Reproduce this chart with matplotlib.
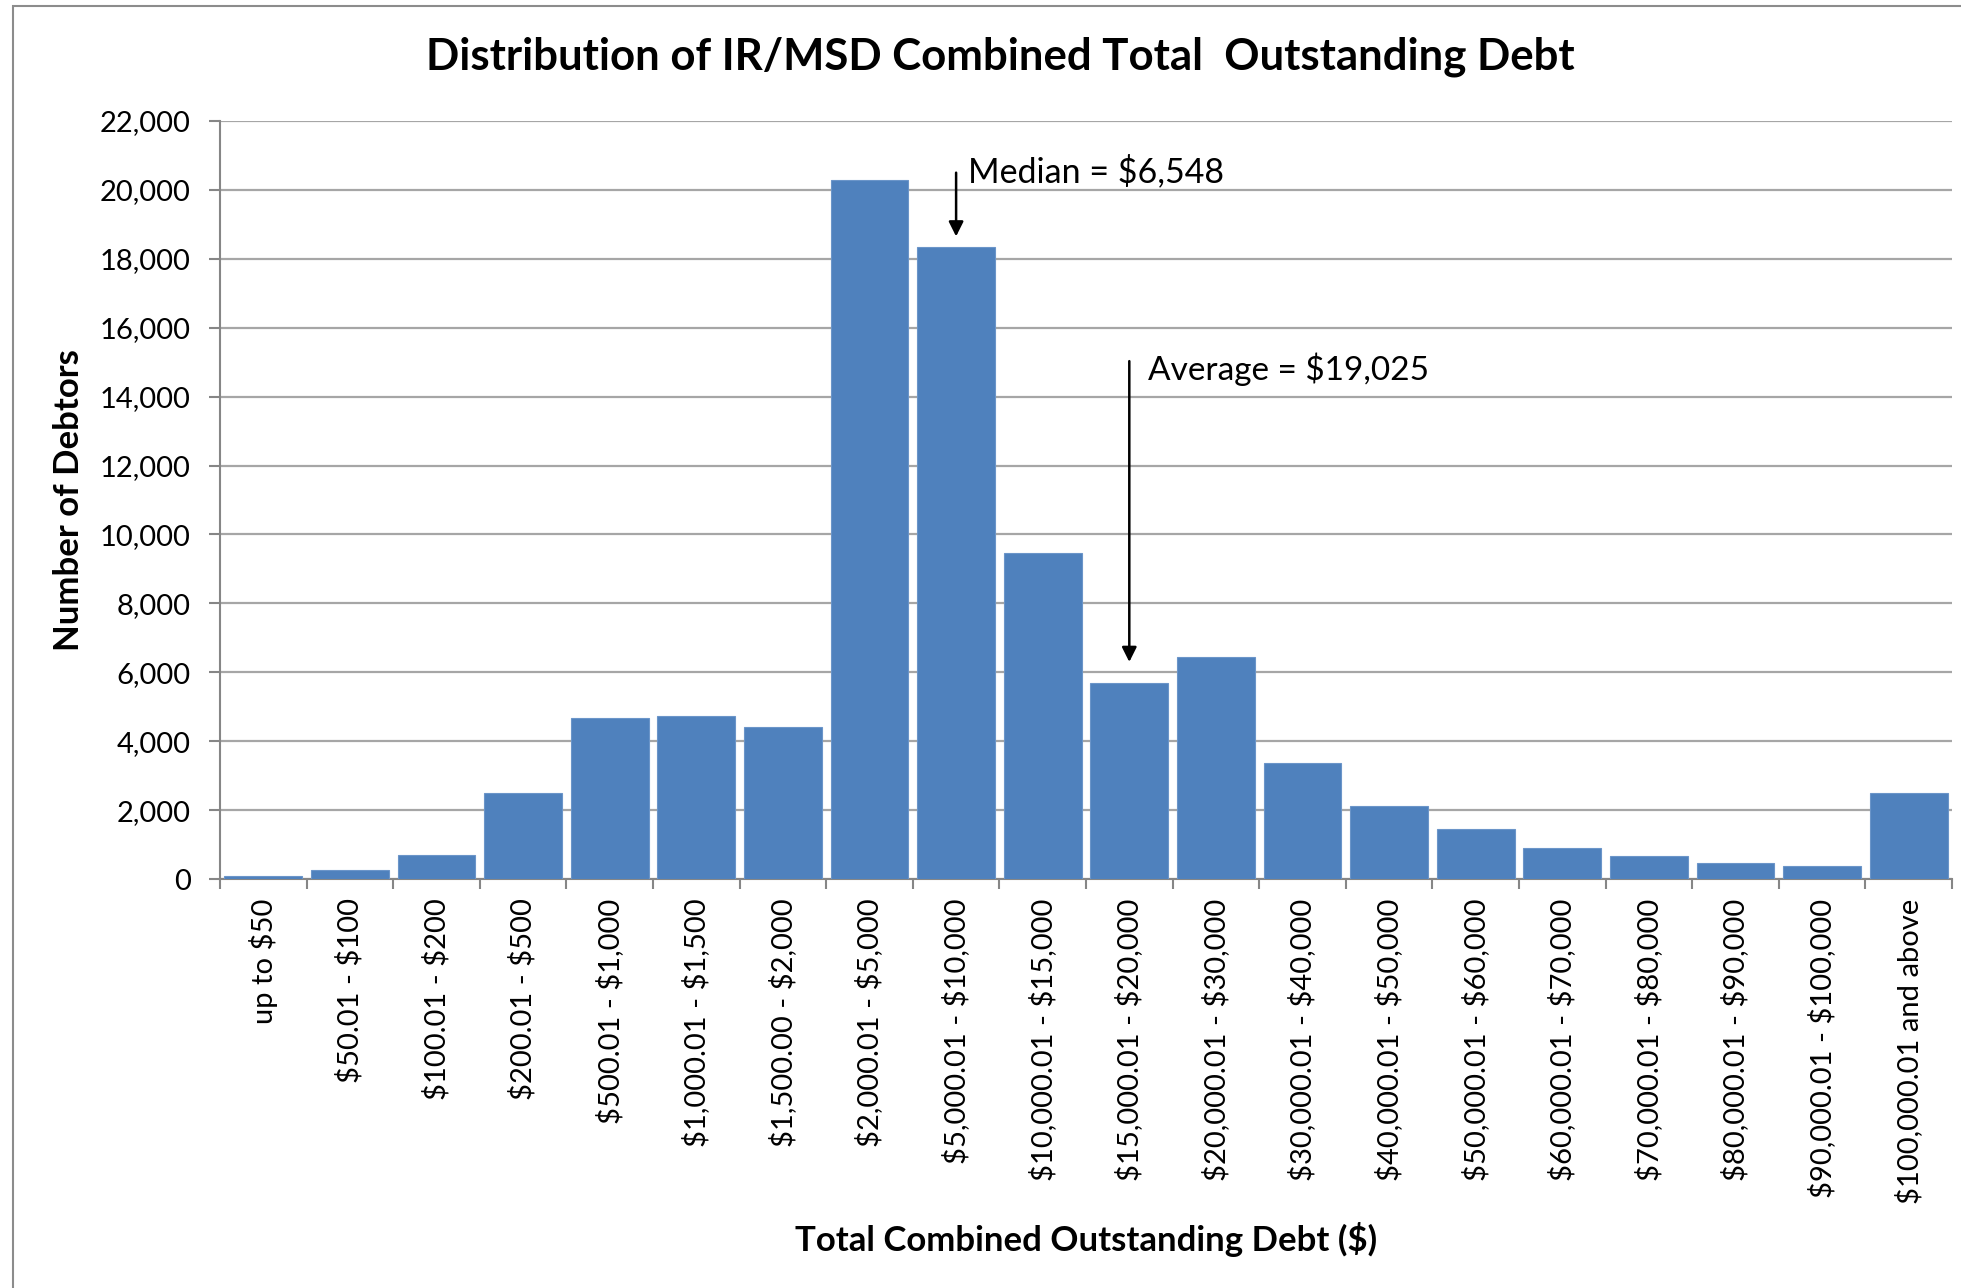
import matplotlib
matplotlib.use("Agg")
import matplotlib.pyplot as plt
from matplotlib.patches import Rectangle
from matplotlib.ticker import FuncFormatter, FixedLocator
import numpy as np

plt.rcParams['font.family'] = ['Lato', 'DejaVu Sans']
plt.rcParams['text.parse_math'] = False

# debt bands and number of debtors in each
bands = ["up to $50", "$50.01 - $100", "$100.01 - $200", "$200.01 - $500",
         "$500.01 - $1,000", "$1,000.01 - $1,500", "$1,500.00 - $2,000",
         "$2,000.01 - $5,000", "$5,000.01 - $10,000", "$10,000.01 - $15,000",
         "$15,000.01 - $20,000", "$20,000.01 - $30,000", "$30,000.01 - $40,000",
         "$40,000.01 - $50,000", "$50,000.01 - $60,000", "$60,000.01 - $70,000",
         "$70,000.01 - $80,000", "$80,000.01 - $90,000", "$90,000.01 - $100,000",
         "$100,000.01 and above"]
debtors = [80, 260, 700, 2500, 4680, 4730, 4400, 20300, 18350, 9450,
           5700, 6430, 3380, 2110, 1450, 900, 660, 470, 370, 2500]

median_label = "Median = $6,548"
average_label = "Average = $19,025"
median_band = 8
average_band = 10

fig = plt.figure(figsize=(19.61, 12.88), dpi=100)
ax = fig.add_axes([220/1961, 1-879/1288, 1732/1961, 758/1288])

x = np.arange(len(bands))
ax.bar(x, debtors, width=0.9, color="#4F81BD", edgecolor="#6b95c9", linewidth=0.8, zorder=3)

ax.set_xlim(-0.5, len(bands) - 0.5)
ax.set_ylim(0, 22000)
ax.set_yticks(np.arange(0, 22001, 2000))
ax.yaxis.set_major_formatter(FuncFormatter(lambda v, p: f"{int(v):,}"))
ax.grid(axis="y", color="#a6a6a6", linewidth=1.6, zorder=0)

ax.set_xticks(x)
ax.set_xticklabels(bands, rotation=90, va="top", ha="center")
ax.xaxis.set_minor_locator(FixedLocator(np.arange(-0.5, len(bands), 1)))
ax.tick_params(axis="x", which="major", length=0, pad=14, labelsize=21)
ax.tick_params(axis="x", which="minor", length=7, width=1.5, color="#868686")
ax.tick_params(axis="y", length=8, width=1.5, color="#868686", labelsize=21, pad=13)

for s in ["top", "right"]:
    ax.spines[s].set_visible(False)
for s in ["left", "bottom"]:
    ax.spines[s].set_color("#868686")
    ax.spines[s].set_linewidth(1.5)

ax.set_ylabel("Number of Debtors", fontsize=25, fontweight="bold")
ax.yaxis.set_label_coords(-0.078, 0.5)
ax.set_xlabel("Total Combined Outstanding Debt ($)", fontsize=25, fontweight="bold")
ax.xaxis.set_label_coords(0.5, -0.4525)

fig.text(0.51, 1-57/1288, "Distribution of IR/MSD Combined Total  Outstanding Debt",
         ha="center", va="center", fontsize=31.5, fontweight="bold")

# median and average markers
arrow = dict(arrowstyle="-|>", color="black", lw=1.8, mutation_scale=22,
             shrinkA=0, shrinkB=0)
ax.annotate("", xy=(median_band, 18650), xytext=(median_band, 20500),
            arrowprops=arrow, zorder=5)
ax.text(median_band + 0.14, 20550, median_label, fontsize=24.5, va="center", ha="left")
ax.annotate("", xy=(average_band, 6300), xytext=(average_band, 15030),
            arrowprops=arrow, zorder=5)
ax.text(average_band + 0.22, 14800, average_label, fontsize=24, va="center", ha="left")

# outer chart border
fig.patches.append(Rectangle((13/1961, -0.01), 1.0, 1.01 - 6/1288, fill=False,
                             edgecolor="#8c8c8c", linewidth=1.5,
                             transform=fig.transFigure, figure=fig))

fig.savefig("out.png", dpi=100)
